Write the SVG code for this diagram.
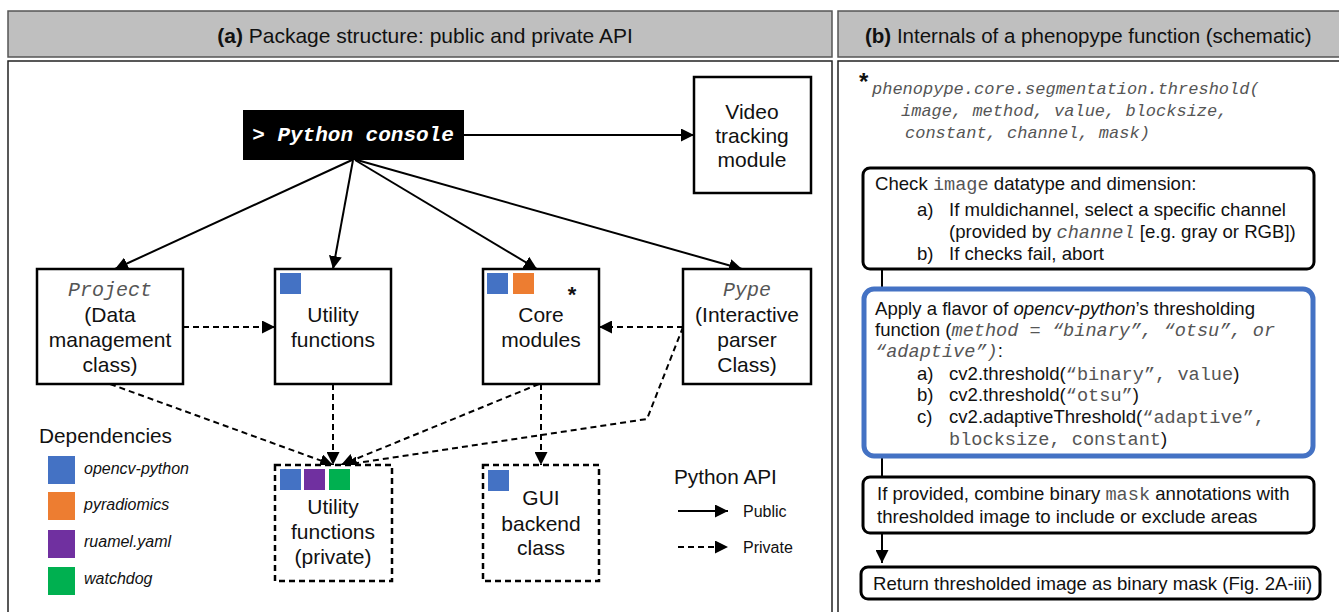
<svg xmlns="http://www.w3.org/2000/svg" width="1339" height="612" viewBox="0 0 1339 612">
<style>
.hdr{fill:#bfbfbf;stroke:#555;stroke-width:1.5}
.panel{fill:#fff;stroke:#222;stroke-width:1.5}
.box{fill:#fff;stroke:#000;stroke-width:2.5}
.dbox{fill:#fff;stroke:#000;stroke-width:2.5;stroke-dasharray:6 4}
.t{font-family:"Liberation Sans",Arial,sans-serif;fill:#111}
.n{font-size:21px;text-anchor:middle}
.mi{font-family:"Liberation Mono","Courier New",monospace;font-style:italic;fill:#555}
.m{font-family:"Liberation Mono","Courier New",monospace;fill:#555}
.pub{stroke:#000;stroke-width:2;fill:none;marker-end:url(#ah)}
.priv{stroke:#000;stroke-width:2;fill:none;stroke-dasharray:6 4;marker-end:url(#ah)}
.fb{fill:#fff;stroke:#000;stroke-width:3}
.bt{font-size:18.6px}
.lg{font-size:16px;font-style:italic}
</style>
<defs>
<marker id="ah" viewBox="0 0 10 10" refX="10" refY="5" markerWidth="13" markerHeight="13" markerUnits="userSpaceOnUse" orient="auto">
<path d="M0,0 L10,5 L0,10 z" fill="#000"/>
</marker>
</defs>
<rect width="1339" height="612" fill="#fff"/>

<!-- Panel (a) -->
<g id="panel-a-header">
<rect class="hdr" x="8" y="11" width="824" height="46"/>
<text class="t" x="425" y="43" font-size="21" text-anchor="middle"><tspan font-weight="bold">(a)</tspan>  Package structure: public and private API</text>
</g>
<rect class="panel" x="8" y="61" width="824" height="560"/>

<!-- Panel (b) -->
<g id="panel-b-header">
<rect class="hdr" x="838" y="11" width="510" height="46"/>
<text class="t" x="865" y="43" font-size="20.5"><tspan font-weight="bold">(b)</tspan> Internals of a phenopype function (schematic)</text>
</g>
<rect class="panel" x="838" y="61" width="510" height="560"/>

<!-- connectors panel a -->
<g id="connectors">
<line class="pub" x1="464" y1="135" x2="694" y2="135"/>
<line class="pub" x1="352" y1="160" x2="115" y2="269"/>
<line class="pub" x1="353" y1="160" x2="333" y2="269"/>
<line class="pub" x1="355" y1="160" x2="537" y2="269"/>
<line class="pub" x1="357" y1="160" x2="742" y2="269"/>
<line class="priv" x1="183" y1="327" x2="275" y2="327"/>
<line class="priv" x1="683" y1="327" x2="599" y2="327"/>
<line class="priv" x1="110" y1="384" x2="333" y2="465"/>
<line class="priv" x1="333" y1="384" x2="333" y2="465"/>
<line class="priv" x1="539" y1="384" x2="341" y2="465"/>
<line class="priv" x1="541" y1="384" x2="541" y2="465"/>
<polyline class="priv" points="683,327 647,419 344,465"/>
</g>

<g id="python-console">
<rect x="243" y="110" width="221" height="50" fill="#000"/>
<text x="353" y="141" font-family="Liberation Mono,Courier New,monospace" font-size="21" font-weight="bold" font-style="italic" fill="#fff" text-anchor="middle">&gt; Python console</text>
</g>

<g id="video-tracking">
<rect class="box" x="694" y="77" width="117" height="116"/>
<text class="t n" x="752" y="119">Video</text>
<text class="t n" x="752" y="143">tracking</text>
<text class="t n" x="752" y="167">module</text>
</g>

<g id="project">
<rect class="box" x="37" y="269" width="146" height="115"/>
<text class="mi" x="110" y="296" font-size="20" text-anchor="middle">Project</text>
<text class="t n" x="110" y="322">(Data</text>
<text class="t n" x="110" y="347">management</text>
<text class="t n" x="110" y="372">class)</text>
</g>

<g id="utility-functions">
<rect class="box" x="275" y="269" width="116" height="115"/>
<rect x="280" y="273" width="21" height="21" fill="#4472C4"/>
<text class="t n" x="333" y="322">Utility</text>
<text class="t n" x="333" y="347">functions</text>
</g>

<g id="core-modules">
<rect class="box" x="483" y="269" width="116" height="115"/>
<rect x="487" y="273" width="21" height="21" fill="#4472C4"/>
<rect x="513" y="273" width="21" height="21" fill="#ED7D31"/>
<text class="t" x="572" y="302" font-size="22" font-weight="bold" text-anchor="middle">*</text>
<text class="t n" x="541" y="322">Core</text>
<text class="t n" x="541" y="347">modules</text>
</g>

<g id="pype">
<rect class="box" x="683" y="269" width="128" height="115"/>
<text class="mi" x="747" y="296" font-size="20" text-anchor="middle">Pype</text>
<text class="t n" x="747" y="322">(Interactive</text>
<text class="t n" x="747" y="347">parser</text>
<text class="t n" x="747" y="372">Class)</text>
</g>

<g id="utility-private">
<rect class="dbox" x="275" y="465" width="117" height="116"/>
<rect x="280" y="469" width="21" height="21" fill="#4472C4"/>
<rect x="304" y="469" width="21" height="21" fill="#7030A0"/>
<rect x="329" y="469" width="21" height="21" fill="#00B050"/>
<text class="t n" x="333" y="514">Utility</text>
<text class="t n" x="333" y="539">functions</text>
<text class="t n" x="333" y="564">(private)</text>
</g>

<g id="gui-backend">
<rect class="dbox" x="483" y="465" width="116" height="116"/>
<rect x="488" y="470" width="21" height="21" fill="#4472C4"/>
<text class="t n" x="541" y="505">GUI</text>
<text class="t n" x="541" y="531">backend</text>
<text class="t n" x="541" y="555">class</text>
</g>

<g id="legend-dependencies">
<text class="t" x="39" y="443" font-size="20.8">Dependencies</text>
<rect x="48" y="456" width="27" height="28" fill="#4472C4"/>
<rect x="48" y="492" width="27" height="28" fill="#ED7D31"/>
<rect x="48" y="530" width="27" height="28" fill="#7030A0"/>
<rect x="48" y="567" width="27" height="28" fill="#00B050"/>
<text class="t lg" x="84" y="474">opencv-python</text>
<text class="t lg" x="84" y="510">pyradiomics</text>
<text class="t lg" x="84" y="547">ruamel.yaml</text>
<text class="t lg" x="84" y="584">watchdog</text>
</g>

<g id="legend-api">
<text class="t" x="674" y="484" font-size="20.8">Python API</text>
<line class="pub" x1="678" y1="511" x2="728" y2="511"/>
<line class="priv" x1="678" y1="547" x2="728" y2="547"/>
<text class="t" x="743" y="517" font-size="16">Public</text>
<text class="t" x="743" y="553" font-size="16">Private</text>
</g>

<!-- Panel (b) content -->
<g id="signature">
<text class="t" x="859" y="90" font-size="24" font-weight="bold">*</text>
<text class="mi" x="872" y="94" font-size="17">phenopype.core.segmentation.threshold(</text>
<text class="mi" x="901" y="116" font-size="17">image, method, value, blocksize,</text>
<text class="mi" x="905" y="138" font-size="17">constant, channel, mask)</text>
</g>

<g id="flow-connectors">
<line x1="882" y1="270" x2="882" y2="289" stroke="#000" stroke-width="2"/>
<line x1="882" y1="457" x2="882" y2="477" stroke="#000" stroke-width="2"/>
<line x1="882" y1="533" x2="882" y2="563" stroke="#000" stroke-width="2" marker-end="url(#ah)"/>
</g>

<g id="check-image">
<rect class="fb" x="863" y="168" width="451" height="101" rx="7"/>
<text class="t bt" x="875" y="190">Check <tspan class="m">image</tspan> datatype and dimension:</text>
<text class="t bt" x="917" y="216">a)</text>
<text class="t bt" x="949" y="216">If muldichannel, select a specific channel</text>
<text class="t bt" x="949" y="238">(provided by <tspan class="mi">channel</tspan> [e.g. gray or RGB])</text>
<text class="t bt" x="917" y="260">b)</text>
<text class="t bt" x="949" y="260">If checks fail, abort</text>
</g>

<g id="apply-threshold">
<rect x="864" y="289" width="449" height="167" rx="10" fill="#fff" stroke="#4472C4" stroke-width="5"/>
<text class="t bt" x="875" y="315">Apply a flavor of <tspan font-style="italic">opencv-python</tspan>’s thresholding</text>
<text class="t bt" x="875" y="336">function (<tspan class="mi">method = “binary”, “otsu”, or</tspan></text>
<text class="t bt" x="875" y="357"><tspan class="mi">“adaptive”)</tspan>:</text>
<text class="t bt" x="917" y="380">a)</text>
<text class="t bt" x="949" y="380">cv2.threshold(<tspan class="m">“binary”, value</tspan>)</text>
<text class="t bt" x="917" y="401">b)</text>
<text class="t bt" x="949" y="401">cv2.threshold(<tspan class="m">“otsu”</tspan>)</text>
<text class="t bt" x="917" y="423">c)</text>
<text class="t bt" x="949" y="423">cv2.adaptiveThreshold(<tspan class="m">“adaptive”,</tspan></text>
<text class="t bt" x="949" y="445"><tspan class="m">blocksize, constant</tspan>)</text>
</g>

<g id="combine-mask">
<rect class="fb" x="863" y="477" width="451" height="56" rx="7"/>
<text class="t bt" x="877" y="500">If provided, combine binary <tspan class="m">mask</tspan> annotations with</text>
<text class="t bt" x="877" y="523">thresholded image to include or exclude areas</text>
</g>

<g id="return-mask">
<rect class="fb" x="861" y="567" width="459" height="32" rx="7"/>
<text class="t bt" x="873" y="590">Return thresholded image as binary mask (Fig. 2A-iii)</text>
</g>
</svg>
